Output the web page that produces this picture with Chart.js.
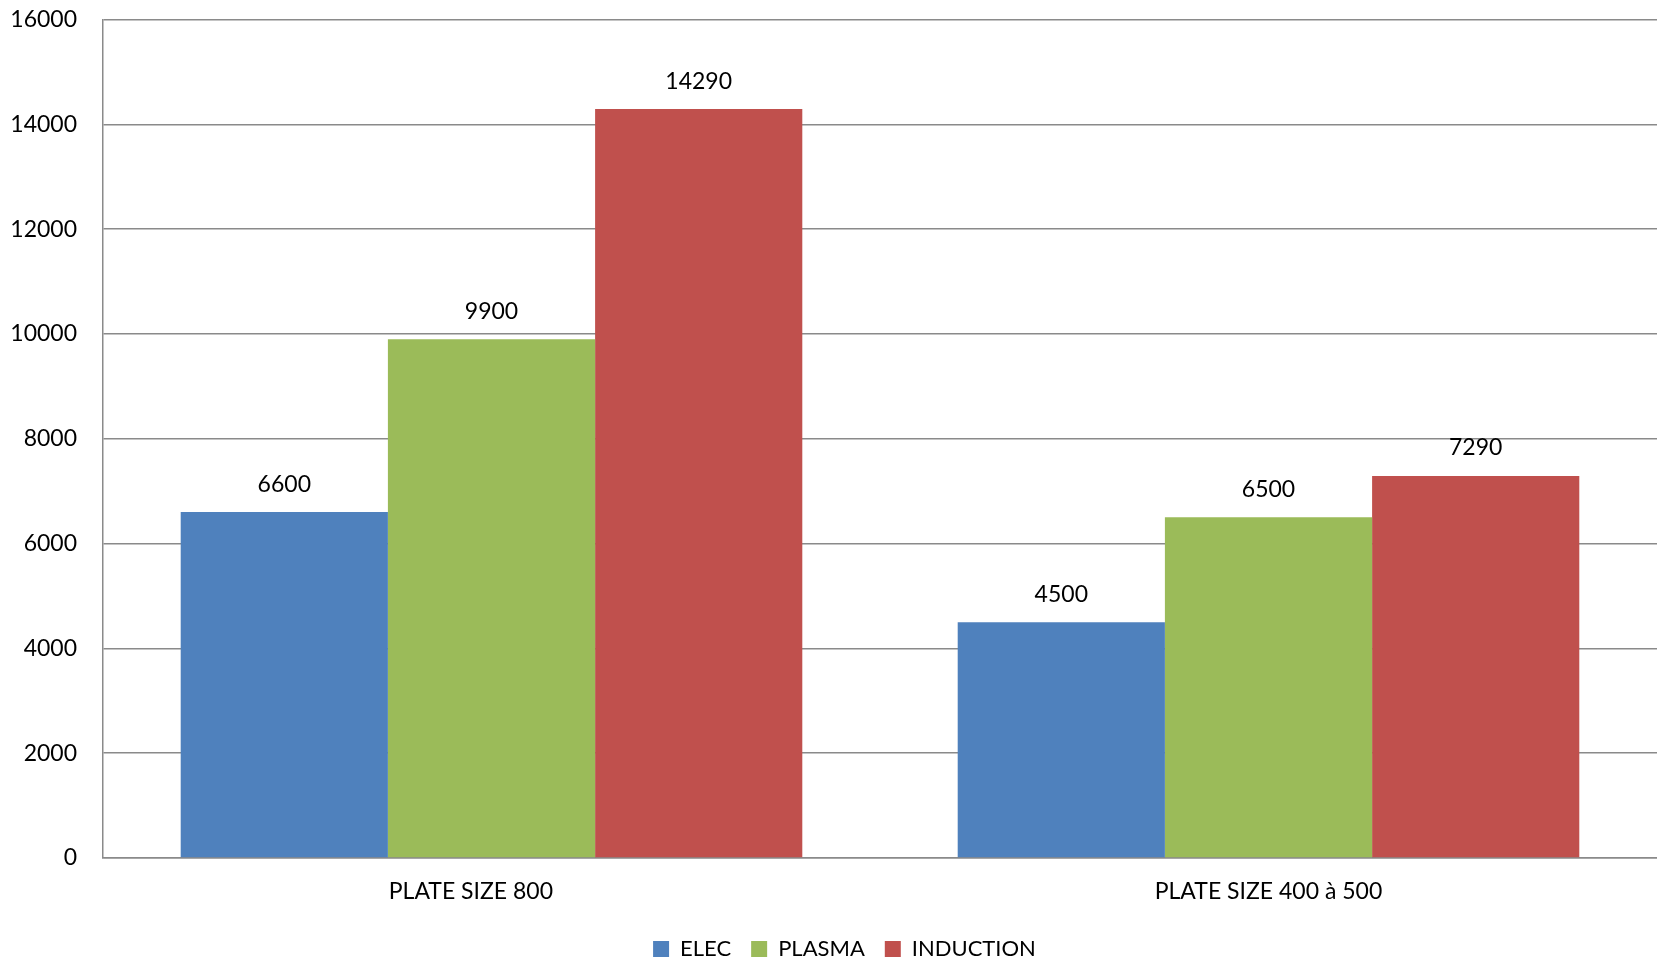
<!DOCTYPE html>
<html>
<head>
<meta charset="utf-8">
<script src="https://cdn.jsdelivr.net/npm/chart.js@4/dist/chart.umd.min.js"></script>
<style>
  html, body { margin: 0; padding: 0; background: #fff; }
  #wrap { width: 1657px; height: 960px; position: relative; }
</style>
</head>
<body>
<div id="wrap"><canvas id="chart"></canvas></div>
<script>
// ── Data ─────────────────────────────────────────────
// (le premier libellé se termine par des espaces, comme dans l'original)
const categories = ['PLATE SIZE 800       ', 'PLATE SIZE 400 à 500'];
const elec       = [6600, 4500];
const plasma     = [9900, 6500];
const induction  = [14290, 7290];
const yTicks     = [0, 2000, 4000, 6000, 8000, 10000, 12000, 14000, 16000];

const COLORS = {
  elec:      '#4F81BD',
  plasma:    '#9BBB59',
  induction: '#C0504D',
  grid:      '#8a8a8a',
};

Chart.defaults.font.family = "Lato, 'Open Sans', sans-serif";
Chart.defaults.color = '#000';

// valeurs au-dessus des barres
const barValues = {
  id: 'barValues',
  afterDatasetsDraw(chart) {
    const ctx = chart.ctx;
    ctx.save();
    ctx.font = "23px Lato, sans-serif";
    ctx.fillStyle = '#000';
    ctx.textAlign = 'center';
    ctx.textBaseline = 'middle';
    chart.data.datasets.forEach((ds, i) => {
      chart.getDatasetMeta(i).data.forEach((bar, j) => {
        ctx.fillText(String(ds.data[j]), bar.x, bar.y - 28);
      });
    });
    ctx.restore();
  }
};

// légende un peu plus compacte et légèrement décalée à droite
const tightLegend = {
  id: 'tightLegend',
  beforeInit(chart) {
    const lg = chart.legend;
    if (!lg) return;
    const fit = lg.fit;
    lg.fit = function () {
      fit.call(this);
      this.height -= 10;
    };
  },
  afterLayout(chart) {
    const lg = chart.legend;
    if (!lg) return;
    lg.left += 16;
    lg.right += 16;
  }
};

new Chart(document.getElementById('chart'), {
  type: 'bar',
  data: {
    labels: categories,
    datasets: [
      { label: 'ELEC',      data: elec,      backgroundColor: COLORS.elec },
      { label: 'PLASMA',    data: plasma,    backgroundColor: COLORS.plasma },
      { label: 'INDUCTION', data: induction, backgroundColor: COLORS.induction },
    ],
  },
  options: {
    responsive: true,
    maintainAspectRatio: false,
    animation: false,
    layout: { padding: 0 },
    datasets: { bar: { categoryPercentage: 0.8, barPercentage: 1.0 } },
    plugins: {
      tooltip: { enabled: false },
      legend: {
        position: 'bottom',
        labels: {
          boxWidth: 16,
          boxHeight: 16,
          padding: 20,
          font: { size: 22 },
          color: '#000',
        },
      },
    },
    scales: {
      x: {
        grid: { display: false },
        border: { display: true, color: COLORS.grid, width: 1.5 },
        ticks: { font: { size: 23 }, color: '#000', padding: 12, maxRotation: 0 },
        afterFit(scale) { scale.height = 60; },
      },
      y: {
        min: 0,
        max: 16000,
        afterBuildTicks(scale) { scale.ticks = yTicks.map(v => ({ value: v })); },
        grid: { color: COLORS.grid, lineWidth: 1.5, drawTicks: false },
        border: { display: true, color: COLORS.grid, width: 1.5 },
        ticks: {
          font: { size: 23 }, color: '#000', padding: 26,
          callback: v => String(v),
        },
        afterFit(scale) {
          scale.width = 103;
          scale.paddingTop = 19.5;
          scale.paddingBottom = 14;
        },
      },
    },
  },
  plugins: [barValues, tightLegend],
});
</script>
</body>
</html>
